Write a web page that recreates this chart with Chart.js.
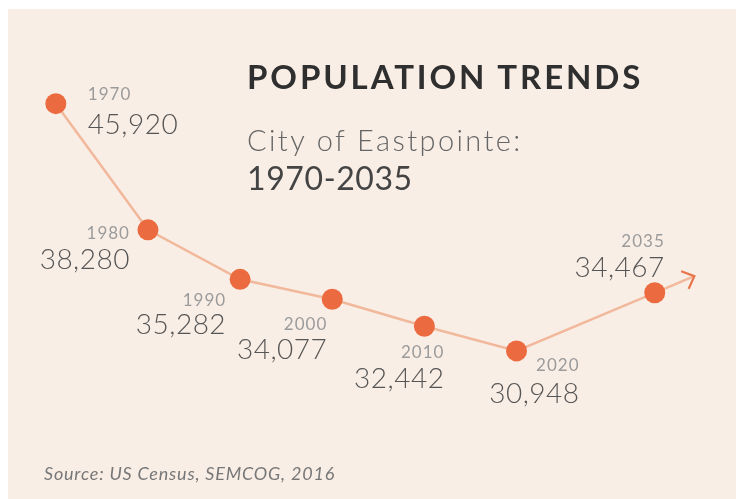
<!DOCTYPE html>
<html>
<head>
<meta charset="utf-8">
<script src="https://cdn.jsdelivr.net/npm/chart.js@4.4.1/dist/chart.umd.min.js"></script>
<style>
  html, body { margin: 0; padding: 0; background: #fff; }
  #wrap { position: relative; width: 736px; height: 499px; overflow: hidden; }
  #panel { position: absolute; left: 8px; top: 9px; width: 728px; height: 490px; background: #f9eee6; }
  #chart { position: absolute; left: 0; top: 0; }
  .t { position: absolute; left: 247px; white-space: nowrap; font-family: Lato, sans-serif; line-height: 1; }
  #title { top: 60px; font-size: 33px; font-weight: 700; color: #2f2f2f; letter-spacing: 2.9px; }
  #sub1 { top: 125px; font-size: 29px; font-weight: 300; color: #666; letter-spacing: 2.4px; }
  #sub2 { top: 162px; font-size: 32px; font-weight: 400; color: #444; letter-spacing: 0.6px; }
  #source { left: 44px; top: 464px; font-size: 18px; font-style: italic; color: #777; letter-spacing: 0.8px; }
</style>
</head>
<body>
<div id="wrap">
  <div id="panel"></div>
  <canvas id="chart" width="736" height="499"></canvas>
  <div class="t" id="title">POPULATION TRENDS</div>
  <div class="t" id="sub1">City of Eastpointe:</div>
  <div class="t" id="sub2">1970-2035</div>
  <div class="t" id="source">Source: US Census, SEMCOG, 2016</div>
</div>
<script>
const years = [1970, 1980, 1990, 2000, 2010, 2020, 2035];
const population = [45920, 38280, 35282, 34077, 32442, 30948, 34467];
const valueLabels = ['45,920', '38,280', '35,282', '34,077', '32,442', '30,948', '34,467'];

// where each year / value label sits relative to its dot
const labelPlace = [
  { align: 'left',  dx: 32,  yearDy: -9,  valDy: 21 },
  { align: 'right', dx: -18, yearDy: 4,   valDy: 30 },
  { align: 'right', dx: -14, yearDy: 21,  valDy: 46 },
  { align: 'right', dx: -5,  yearDy: 25,  valDy: 51 },
  { align: 'right', dx: 20,  yearDy: 26,  valDy: 53 },
  { align: 'right', dx: 63,  yearDy: 15,  valDy: 43 },
  { align: 'right', dx: 10,  yearDy: -51, valDy: -25 }
];

const lineColor = '#f1b89c';
const dotColor = '#eb6a3f';

const labelsPlugin = {
  id: 'pointLabels',
  beforeDatasetsDraw(chart) {
    // arrow continuing the last segment
    const pts = chart.getDatasetMeta(0).data;
    const a = pts[pts.length - 2], b = pts[pts.length - 1];
    let ux = b.x - a.x, uy = b.y - a.y;
    const len = Math.hypot(ux, uy);
    ux /= len; uy /= len;
    const tx = b.x + ux * 43, ty = b.y + uy * 43;
    const ctx = chart.ctx;
    ctx.save();
    ctx.strokeStyle = lineColor;
    ctx.lineWidth = 2.5;
    ctx.beginPath();
    ctx.moveTo(b.x, b.y);
    ctx.lineTo(tx, ty);
    ctx.stroke();
    const ang = Math.atan2(uy, ux);
    ctx.strokeStyle = '#e9744a';
    ctx.lineWidth = 2.2;
    ctx.beginPath();
    ctx.moveTo(tx - 14 * Math.cos(ang - 0.75), ty - 14 * Math.sin(ang - 0.75));
    ctx.lineTo(tx, ty);
    ctx.lineTo(tx - 14 * Math.cos(ang + 0.75), ty - 14 * Math.sin(ang + 0.75));
    ctx.stroke();
    ctx.restore();
  },
  afterDatasetsDraw(chart) {
    const ctx = chart.ctx;
    const pts = chart.getDatasetMeta(0).data;
    ctx.save();
    ctx.textBaseline = 'middle';
    pts.forEach((p, i) => {
      const L = labelPlace[i];
      ctx.textAlign = L.align;
      ctx.letterSpacing = '1px';
      ctx.font = '17px Lato, sans-serif';
      ctx.fillStyle = '#9b9b9b';
      ctx.fillText(String(years[i]), p.x + L.dx, p.y + L.yearDy);
      ctx.letterSpacing = '0.5px';
      ctx.font = '300 28px Lato, sans-serif';
      ctx.fillStyle = '#555';
      ctx.fillText(valueLabels[i], p.x + L.dx, p.y + L.valDy);
    });
    ctx.restore();
  }
};

const ctx = document.getElementById('chart').getContext('2d');
new Chart(ctx, {
  type: 'line',
  data: {
    datasets: [{
      data: years.map((y, i) => ({ x: y, y: population[i] })),
      borderColor: lineColor,
      borderWidth: 2.5,
      pointRadius: 10.5,
      pointBackgroundColor: dotColor,
      pointBorderWidth: 0,
      tension: 0,
      clip: false
    }]
  },
  options: {
    responsive: false,
    animation: false,
    events: [],
    layout: { padding: 0 },
    scales: {
      x: { type: 'linear', min: 1965.08, max: 2042.68, display: false },
      y: { min: 22613, max: 51564, display: false }
    },
    plugins: {
      legend: { display: false },
      tooltip: { enabled: false }
    }
  },
  plugins: [labelsPlugin]
});
</script>
</body>
</html>
